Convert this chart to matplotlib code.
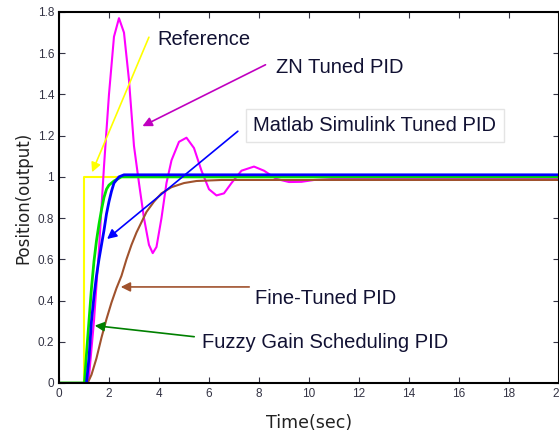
import matplotlib
matplotlib.use('Agg')
import matplotlib.pyplot as plt

plt.rcParams['font.family'] = ['Liberation Sans Narrow', 'Liberation Sans', 'DejaVu Sans']

# step reference
t_ref = [0, 1.0, 1.0, 20]
y_ref = [0, 0, 1.0, 1.0]

# ZN tuned PID
t_zn = [0, 1.1, 1.2, 1.4, 1.6, 1.8, 2.0, 2.2, 2.4, 2.6, 2.8, 3.0, 3.2, 3.4, 3.6, 3.75,
        3.9, 4.1, 4.3, 4.5, 4.8, 5.1, 5.4, 5.7, 6.0, 6.3, 6.6, 6.9, 7.3, 7.8, 8.2,
        8.7, 9.2, 9.7, 10.2, 11.0, 12.0, 20]
y_zn = [0, 0, 0.03, 0.3, 0.65, 1.05, 1.4, 1.68, 1.77, 1.7, 1.47, 1.15, 0.97, 0.8, 0.67, 0.63,
        0.66, 0.8, 0.97, 1.08, 1.17, 1.19, 1.14, 1.03, 0.94, 0.91, 0.92, 0.97, 1.03, 1.05, 1.03,
        0.99, 0.975, 0.976, 0.985, 0.99, 0.99, 0.99]

# Fine-tuned PID
t_ft = [0, 1.15, 1.3, 1.5, 1.7, 1.9, 2.1, 2.3, 2.5, 2.7, 2.9, 3.1, 3.3, 3.5, 3.8,
        4.1, 4.5, 5.0, 5.5, 6.5, 20]
y_ft = [0, 0, 0.04, 0.12, 0.22, 0.31, 0.39, 0.46, 0.52, 0.6, 0.67, 0.73, 0.78, 0.83, 0.88,
        0.92, 0.95, 0.97, 0.98, 0.985, 0.985]

# Fuzzy gain scheduling PID
t_fz = [0, 1.02, 1.1, 1.2, 1.3, 1.4, 1.5, 1.6, 1.7, 1.8, 1.9, 2.0, 2.2, 2.5, 20]
y_fz = [0, 0, 0.14, 0.3, 0.46, 0.59, 0.69, 0.77, 0.84, 0.9, 0.94, 0.96, 0.98, 1.0, 1.0]

# Matlab Simulink tuned PID
t_ml = [1.1, 1.2, 1.3, 1.4, 1.5, 1.6, 1.7, 1.8, 1.9, 2.0, 2.1, 2.2, 2.4, 2.6, 20]
y_ml = [0, 0.12, 0.3, 0.42, 0.52, 0.6, 0.67, 0.74, 0.82, 0.88, 0.93, 0.97, 1.0, 1.01, 1.01]

fig = plt.figure(figsize=(5.59, 4.36), dpi=100)
ax = fig.add_axes([0.1055, 0.1216, 0.8945, 0.8509])

ax.plot(t_ref, y_ref, color='#ffff00', lw=1.5)
ax.plot(t_zn, y_zn, color='#ff00ff', lw=1.5)
ax.plot(t_ft, y_ft, color='#a0522d', lw=1.5)
ax.plot(t_fz, y_fz, color='#00e000', lw=2)
ax.plot(t_ml, y_ml, color='#0000ff', lw=2)

ax.set_xlim(0, 20)
ax.set_ylim(0, 1.8)
ax.set_xticks(range(0, 21, 2))
ax.set_yticks([0, 0.2, 0.4, 0.6, 0.8, 1, 1.2, 1.4, 1.6, 1.8])
ax.set_yticklabels(['0', '0.2', '0.4', '0.6', '0.8', '1', '1.2', '1.4', '1.6', '1.8'])
ax.tick_params(direction='in', top=True, right=True, labelsize=8.5, colors='#333344', length=4)
ax.set_xlabel('Time(sec)', fontsize=12.5, family=['DejaVu Sans'], color='#222222', labelpad=10)
ax.set_ylabel('Position(output)', fontsize=12, family=['DejaVu Sans'], color='#222222', labelpad=4)
for s in ax.spines.values():
    s.set_linewidth(1.5)

def note(text, xy, xytext, tpos, col, box=False):
    ax.annotate('', xy=xy, xytext=xytext,
                arrowprops=dict(arrowstyle='-|>', color=col, lw=1.2, mutation_scale=14))
    kw = dict(fontsize=14.5, color='#111133', va='center', ha='left')
    if box:
        kw['bbox'] = dict(boxstyle='square,pad=0.35', fc='white', ec='#e4e4e4')
    ax.text(tpos[0], tpos[1], text, **kw)

note('Reference', (1.28, 1.01), (3.64, 1.69), (3.92, 1.665), '#ffff00')
note('ZN Tuned PID', (3.24, 1.24), (8.36, 1.55), (8.68, 1.53), '#c000c0')
note('Matlab Simulink Tuned PID', (1.84, 0.69), (7.24, 1.23), (7.78, 1.25), '#0000ff', box=True)
note('Fine-Tuned PID', (2.36, 0.466), (7.72, 0.466), (7.84, 0.41), '#a0522d')
note('Fuzzy Gain Scheduling PID', (1.32, 0.28), (5.52, 0.223), (5.72, 0.194), '#008000')

fig.savefig('out.png', dpi=100)
